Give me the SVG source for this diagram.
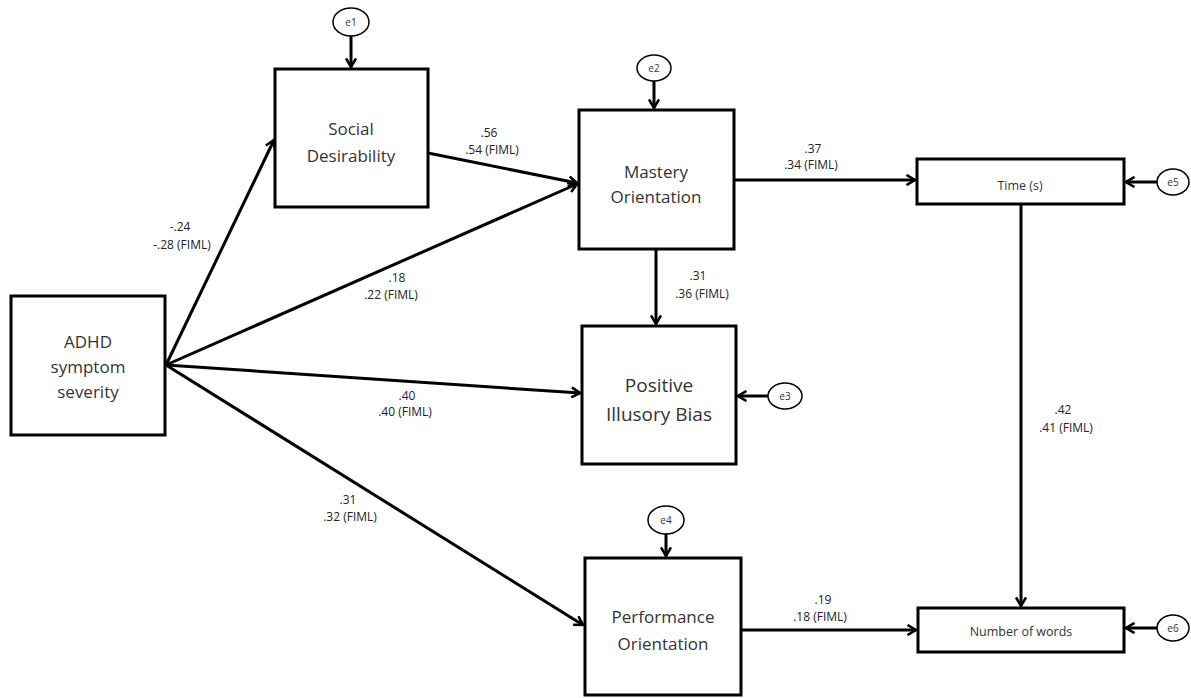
<svg xmlns="http://www.w3.org/2000/svg" width="1191" height="698" viewBox="0 0 1191 698">
<style>
.box{fill:#fff;stroke:#000;stroke-width:3}
.err{fill:#fff;stroke:#000;stroke-width:1.5}
.ln{fill:none;stroke:#000;stroke-width:3;marker-end:url(#ah)}
.nt{font-family:"Open Sans","Liberation Sans",sans-serif;font-size:17px;fill:#333;text-anchor:middle}
.et{font-family:"Open Sans","Liberation Sans",sans-serif;font-size:10px;fill:#333;text-anchor:middle}
.lb{font-family:"Open Sans","Liberation Sans",sans-serif;font-size:12px;fill:#222;text-anchor:middle}
.sm{font-family:"Open Sans","Liberation Sans",sans-serif;font-size:12.5px;fill:#333;text-anchor:middle}
</style>
<defs>
<marker id="ah" markerWidth="12" markerHeight="12" viewBox="0 0 12 12" refX="10.5" refY="6" orient="auto" markerUnits="userSpaceOnUse">
<path d="M2,1 L10.5,6 L2,11" fill="none" stroke="#000" stroke-width="2.6"/>
</marker>
</defs>
<g id="connectors">
<line class="ln" x1="166" y1="365" x2="274" y2="140"/>
<line class="ln" x1="428" y1="153" x2="577" y2="183"/>
<line class="ln" x1="166" y1="365" x2="577" y2="184"/>
<line class="ln" x1="734" y1="180" x2="915" y2="180"/>
<line class="ln" x1="656" y1="249" x2="656" y2="324"/>
<line class="ln" x1="166" y1="365" x2="580" y2="393"/>
<line class="ln" x1="166" y1="365" x2="583" y2="625"/>
<line class="ln" x1="741" y1="630" x2="916" y2="630"/>
<line class="ln" x1="1021" y1="204" x2="1021" y2="606"/>
<line class="ln" x1="351" y1="36" x2="351" y2="67"/>
<line class="ln" x1="654" y1="81" x2="654" y2="108"/>
<line class="ln" x1="768" y1="396" x2="738" y2="396"/>
<line class="ln" x1="666" y1="534" x2="666" y2="556"/>
<line class="ln" x1="1157" y1="182" x2="1126" y2="182"/>
<line class="ln" x1="1157" y1="628" x2="1126" y2="628"/>
<text class="lb" x="180" y="231">-.24</text>
<text class="lb" x="182" y="249">-.28 (FIML)</text>
<text class="lb" x="489" y="137">.56</text>
<text class="lb" x="492" y="154">.54 (FIML)</text>
<text class="lb" x="397" y="282">.18</text>
<text class="lb" x="391" y="299">.22 (FIML)</text>
<text class="lb" x="407" y="400">.40</text>
<text class="lb" x="405" y="416">.40 (FIML)</text>
<text class="lb" x="348" y="504">.31</text>
<text class="lb" x="350" y="521">.32 (FIML)</text>
<text class="lb" x="813" y="153">.37</text>
<text class="lb" x="811" y="169">.34 (FIML)</text>
<text class="lb" x="698" y="280">.31</text>
<text class="lb" x="702" y="298">.36 (FIML)</text>
<text class="lb" x="1063" y="414">.42</text>
<text class="lb" x="1066" y="432">.41 (FIML)</text>
<text class="lb" x="823" y="604">.19</text>
<text class="lb" x="820" y="621">.18 (FIML)</text>
</g>
<g id="adhd">
<rect class="box" x="11" y="296" width="154" height="139"/>
<text class="nt" x="88" y="348">ADHD</text>
<text class="nt" x="88" y="373">symptom</text>
<text class="nt" x="88" y="398">severity</text>
</g>
<g id="social">
<rect class="box" x="275" y="69" width="153" height="138"/>
<text class="nt" x="351" y="135">Social</text>
<text class="nt" x="351" y="162">Desirability</text>
</g>
<g id="mastery">
<rect class="box" x="579" y="110" width="155" height="139"/>
<text class="nt" x="656" y="178">Mastery</text>
<text class="nt" x="656" y="203">Orientation</text>
</g>
<g id="pib">
<rect class="box" x="582" y="326" width="154" height="138"/>
<text class="nt" x="659" y="392" style="font-size:19px">Positive</text>
<text class="nt" x="659" y="421" style="font-size:19px">Illusory Bias</text>
</g>
<g id="performance">
<rect class="box" x="585" y="558" width="156" height="137"/>
<text class="nt" x="663" y="623">Performance</text>
<text class="nt" x="663" y="650">Orientation</text>
</g>
<g id="time">
<rect class="box" x="917" y="159" width="207" height="45"/>
<text class="sm" x="1020" y="190">Time (s)</text>
</g>
<g id="words">
<rect class="box" x="918" y="608" width="206" height="44"/>
<text class="sm" x="1021" y="636">Number of words</text>
</g>
<g id="e1"><ellipse class="err" cx="351" cy="22" rx="18" ry="14"/><text class="et" x="351" y="26">e1</text></g>
<g id="e2"><ellipse class="err" cx="654" cy="68" rx="17" ry="13"/><text class="et" x="654" y="72">e2</text></g>
<g id="e3"><ellipse class="err" cx="785" cy="396" rx="17" ry="13"/><text class="et" x="785" y="400">e3</text></g>
<g id="e4"><ellipse class="err" cx="666" cy="520" rx="18" ry="14"/><text class="et" x="666" y="524">e4</text></g>
<g id="e5"><ellipse class="err" cx="1173" cy="182" rx="16" ry="13"/><text class="et" x="1173" y="186">e5</text></g>
<g id="e6"><ellipse class="err" cx="1173" cy="628" rx="16" ry="13"/><text class="et" x="1173" y="632">e6</text></g>
</svg>
